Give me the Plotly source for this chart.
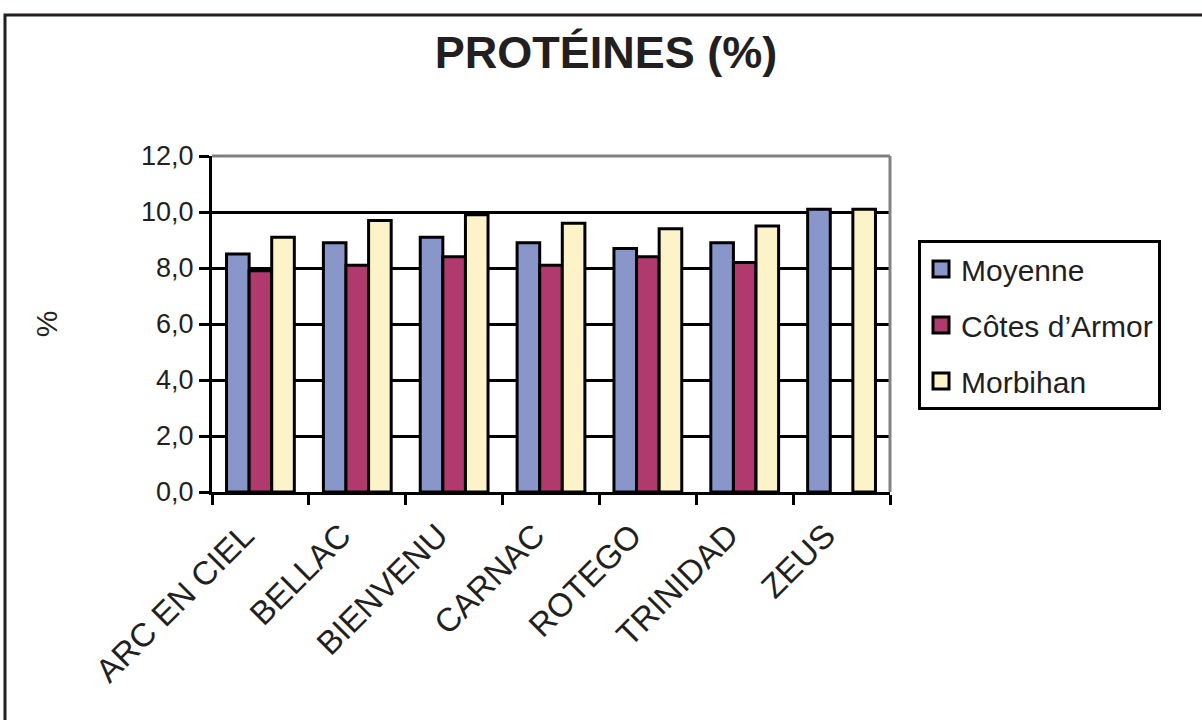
import plotly.graph_objects as go

categories = ["ARC EN CIEL", "BELLAC", "BIENVENU", "CARNAC", "ROTEGO", "TRINIDAD", "ZEUS"]
moyenne = [8.5, 8.9, 9.1, 8.9, 8.7, 8.9, 10.1]
cotes_armor = [7.9, 8.1, 8.4, 8.1, 8.4, 8.2, None]
morbihan = [9.1, 9.7, 9.9, 9.6, 9.4, 9.5, 10.1]
series_names = ["Moyenne", "Côtes d\u2019Armor", "Morbihan"]
colors = ["#8896CA", "#B03A6E", "#FDF3C8"]
y_ticks = [0, 2, 4, 6, 8, 10, 12]

FONT = "Liberation Sans, Arial, sans-serif"
TXT = "#231f20"

L, T = 212, 156
PW, PH = 678, 336

fig = go.Figure()
for i, (name, vals) in enumerate(zip(series_names, [moyenne, cotes_armor, morbihan])):
    fig.add_trace(go.Bar(
        x=categories, y=vals, name=name, showlegend=False,
        marker=dict(color=colors[i], line=dict(color="black", width=3)),
    ))
# legend entries with larger square swatches
for i, name in enumerate(series_names):
    fig.add_trace(go.Scatter(
        x=[None], y=[None], mode="markers", name=name, legendgroup=name,
        marker=dict(symbol="square", size=19, color=colors[i],
                    line=dict(color="black", width=3)),
    ))

fig.update_layout(
    width=1202, height=720,
    margin=dict(l=L, r=1202 - L - PW, t=T, b=720 - T - PH),
    paper_bgcolor="white", plot_bgcolor="white",
    separators=", ",
    barmode="group", bargap=0.3, bargroupgap=0.0,
    font=dict(family=FONT, color=TXT, size=27),
    title=dict(text="<b>PROTÉINES (%)</b>", x=606 / 1202, xanchor="center",
               y=1 - 52 / 720, yanchor="middle",
               font=dict(family=FONT, size=45, color=TXT)),
    legend=dict(x=(918 - L) / PW, xanchor="left", y=(T + PH - 240) / PH, yanchor="top",
                bordercolor="black", borderwidth=3, bgcolor="white",
                font=dict(family=FONT, size=30, color=TXT),
                traceorder="grouped", tracegroupgap=14,
                itemwidth=30, entrywidth=240, entrywidthmode="pixels"),
    showlegend=True,
)

fig.update_yaxes(
    range=[0, 12], tickvals=y_ticks, tickformat=".1f",
    showgrid=True, gridcolor="black", gridwidth=3,
    showline=True, linecolor="black", linewidth=3,
    ticks="outside", ticklen=10, tickwidth=3, tickcolor="black",
    tickfont=dict(family=FONT, size=27, color=TXT),
    title=dict(text="%", font=dict(family=FONT, size=30, color=TXT), standoff=75),
    zeroline=False,
)
fig.update_xaxes(
    showline=True, linecolor="black", linewidth=3,
    ticks="outside", tickson="boundaries", ticklen=10, tickwidth=3, tickcolor="black",
    tickangle=-45, ticklabelstandoff=8, ticklabelshift=-16,
    tickfont=dict(family=FONT, size=33, color=TXT),
    showgrid=False,
)

# gray top and right frame of plot area
fig.add_shape(type="line", xref="x domain", yref="y domain", x0=0, x1=1, y0=1, y1=1,
              line=dict(color="#808285", width=3), layer="above")
fig.add_shape(type="line", xref="x domain", yref="y domain", x0=1, x1=1, y0=0, y1=1,
              line=dict(color="#808285", width=3), layer="above")
# outer chart frame
fig.add_shape(type="rect", xref="paper", yref="paper",
              x0=(5 - L) / PW, x1=(1215 - L) / PW, y0=(T + PH - 735) / PH, y1=(T + PH - 15) / PH,
              line=dict(color=TXT, width=3), layer="below")

fig.write_html("out.html", config={"displayModeBar": False},
               post_script="document.body.style.margin='0';document.body.style.padding='0';")
